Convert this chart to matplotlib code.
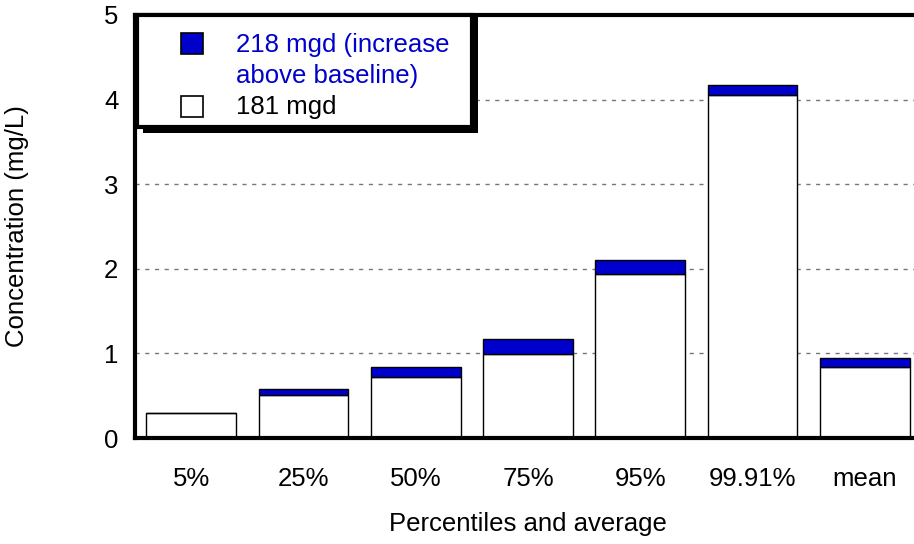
import matplotlib
matplotlib.use("Agg")
import matplotlib.pyplot as plt
from matplotlib.patches import Rectangle
import numpy as np

plt.rcParams['font.family'] = ['Liberation Sans', 'DejaVu Sans']

categories = ['5%', '25%', '50%', '75%', '95%', '99.91%', 'mean']
base_181 = [0.30, 0.505, 0.72, 0.99, 1.94, 4.05, 0.835]
total_218 = [0.30, 0.575, 0.836, 1.17, 2.10, 4.17, 0.95]
increase = [t - b for t, b in zip(total_218, base_181)]
grid_levels = [1, 2, 3, 4]

blue = '#0000CC'
W, H = 914, 544
fs = 18.5

fig = plt.figure(figsize=(W / 100, H / 100), dpi=100)
ax = fig.add_axes([135 / W, 1 - 438 / H, (921 - 135) / W, (438 - 15) / H])

x = np.arange(len(categories))
ax.bar(x, base_181, width=0.8, color='white', edgecolor='black', linewidth=1.0, zorder=3)
ax.bar(x, increase, width=0.8, bottom=base_181, color=blue, edgecolor='black',
       linewidth=1.0, zorder=3)

ax.set_xlim(-0.5, len(categories) - 0.5)
ax.set_ylim(0, 5)
ax.hlines(grid_levels, -0.5, len(categories) - 0.5, linestyles=(0, (3, 4)),
          colors='#777777', linewidth=1.0, zorder=1)
ax.set_yticks(range(6))
ax.set_xticks(x)
ax.set_xticklabels(categories)
ax.tick_params(axis='both', length=0, labelsize=fs)
ax.tick_params(axis='x', pad=21)
ax.tick_params(axis='y', pad=12)
for s in ['left', 'top', 'bottom']:
    ax.spines[s].set_linewidth(3)
    ax.spines[s].set_zorder(5)
ax.spines['right'].set_visible(False)
ax.set_xlabel('Percentiles and average', fontsize=fs, labelpad=15)
ax.set_ylabel('Concentration (mg/L)', fontsize=fs, labelpad=54)


def fx(px):
    return px / W


def fy(py):
    return 1 - py / H


# legend box with drop shadow, drawn in figure coordinates
fig.patches.append(Rectangle((fx(143), fy(133)), fx(335), 118 / H, transform=fig.transFigure,
                             facecolor='black', edgecolor='none', zorder=10))
fig.patches.append(Rectangle((fx(137), fy(127)), fx(335), 112 / H, transform=fig.transFigure,
                             facecolor='white', edgecolor='black', linewidth=3, zorder=11))
fig.patches.append(Rectangle((fx(181), fy(54)), fx(22), 21 / H, transform=fig.transFigure,
                             facecolor=blue, edgecolor='black', linewidth=1.2, zorder=12))
fig.patches.append(Rectangle((fx(181), fy(117)), fx(22), 21 / H, transform=fig.transFigure,
                             facecolor='white', edgecolor='black', linewidth=1.2, zorder=12))
fig.text(fx(236), fy(45), '218 mgd (increase', color=blue, fontsize=fs, va='center', zorder=13)
fig.text(fx(236), fy(76), 'above baseline)', color=blue, fontsize=fs, va='center', zorder=13)
fig.text(fx(236), fy(107), '181 mgd', color='black', fontsize=fs, va='center', zorder=13)

fig.savefig('out.png', dpi=100)
